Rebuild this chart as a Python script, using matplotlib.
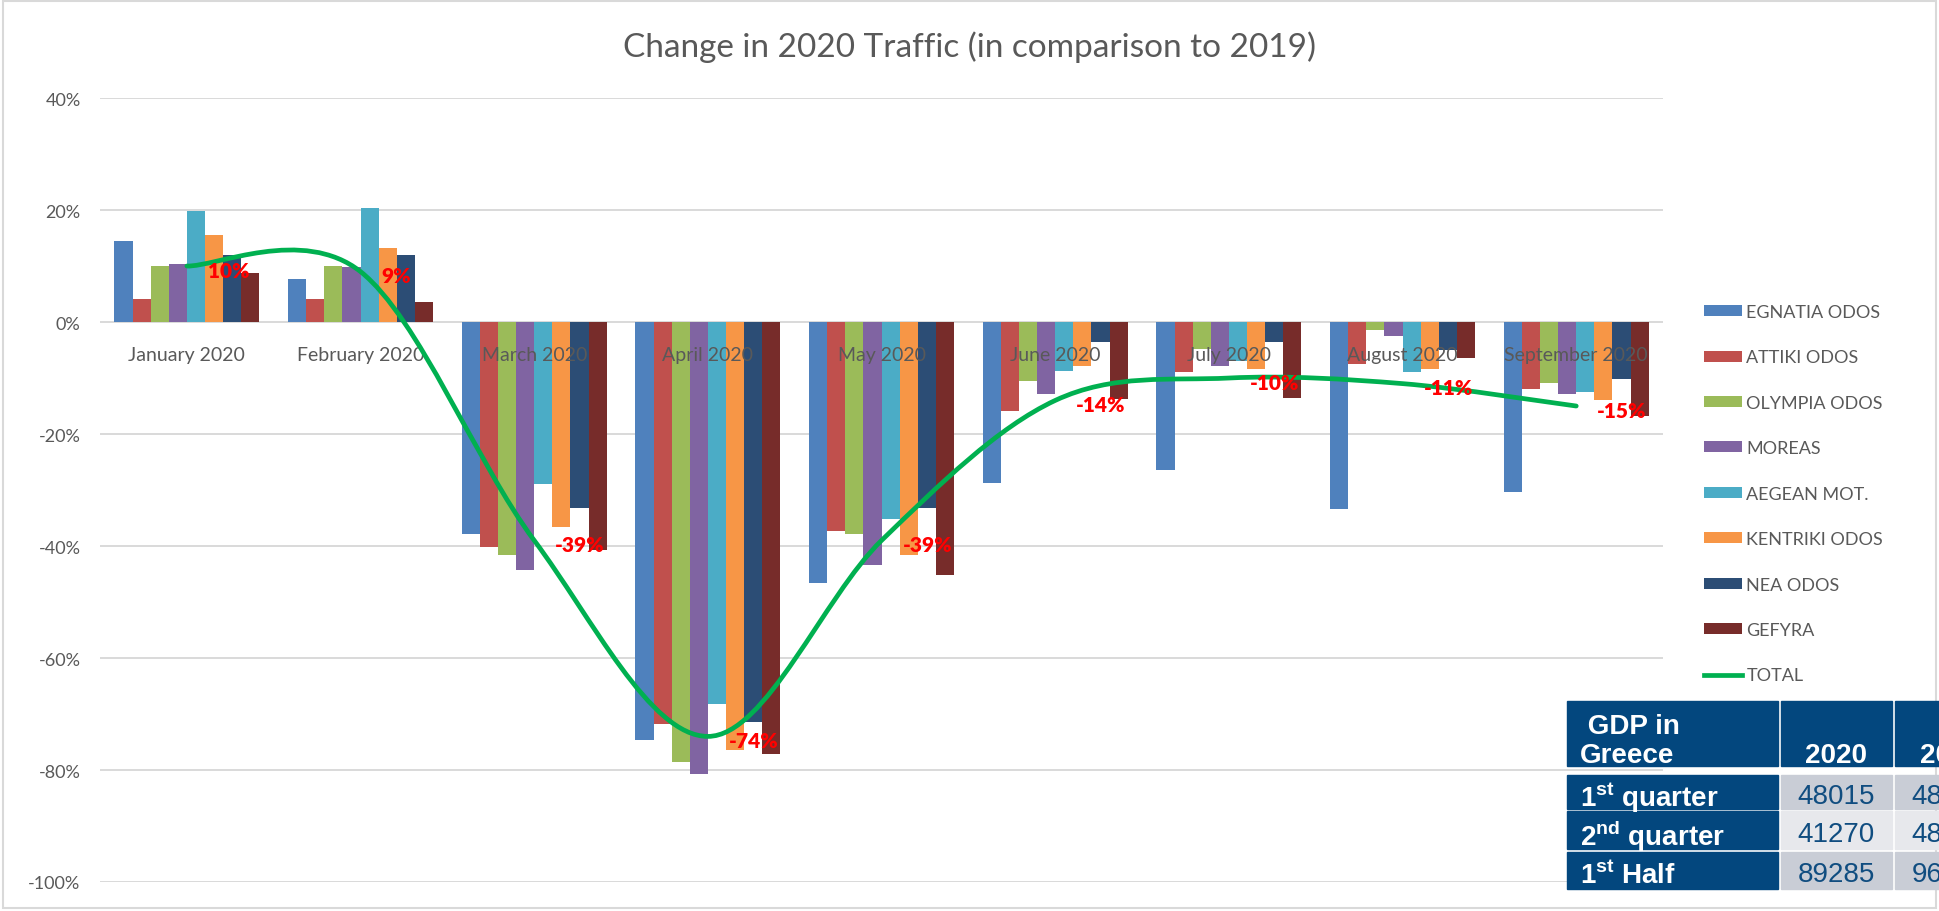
import numpy as np
import matplotlib
matplotlib.use("Agg")
import matplotlib.pyplot as plt
from matplotlib.path import Path
from matplotlib.patches import PathPatch, Rectangle
from matplotlib.lines import Line2D
from matplotlib.ticker import FuncFormatter

plt.rcParams['font.family'] = ['Lato', 'DejaVu Sans']
plt.rcParams['mathtext.fontset'] = 'custom'
plt.rcParams['mathtext.bf'] = 'Liberation Sans:bold'
plt.rcParams['mathtext.rm'] = 'Liberation Sans'

################ data ################

months = ["January 2020", "February 2020", "March 2020", "April 2020", "May 2020",
          "June 2020", "July 2020", "August 2020", "September 2020"]

roads = ["EGNATIA ODOS", "ATTIKI ODOS", "OLYMPIA ODOS", "MOREAS",
         "AEGEAN MOT.", "KENTRIKI ODOS", "NEA ODOS", "GEFYRA"]

egnatia = [14.5, 7.6, -37.9, -74.7, -46.6, -28.7, -26.4, -33.4, -30.4]
attiki = [4.2, 4.2, -40.2, -71.7, -37.3, -15.8, -9.0, -7.5, -11.9]
olympia = [10.0, 10.0, -41.6, -78.6, -37.9, -10.5, -4.8, -1.5, -10.8]
moreas = [10.4, 9.8, -44.3, -80.7, -43.4, -12.9, -7.8, -2.5, -12.9]
aegean = [19.8, 20.4, -28.9, -68.3, -35.2, -8.7, -6.9, -9.0, -12.5]
kentriki = [15.5, 13.2, -36.6, -76.5, -41.6, -7.8, -8.4, -8.4, -14.0]
nea = [11.9, 12.0, -33.3, -71.5, -33.2, -3.6, -3.6, -5.0, -10.1]
gefyra = [8.7, 3.6, -40.8, -77.2, -45.1, -13.8, -13.6, -6.4, -16.8]

total = [10, 9, -39, -74, -39, -14, -10, -11, -15]

road_colors = ["#4F81BD", "#C0504D", "#9BBB59", "#8064A2",
               "#4BACC6", "#F79646", "#2C4D75", "#772C2A"]
total_color = "#00B050"

# GDP table
gdp_header = ["GDP in\nGreece", "2020", "2019"]
gdp_rows = [r"$\mathbf{1}^{\mathbf{st}}$ quarter",
            r"$\mathbf{2}^{\mathbf{nd}}$ quarter",
            r"$\mathbf{1}^{\mathbf{st}}$ Half"]
gdp_2020 = [48015, 41270, 89285]
gdp_2019 = [48200, 48660, 96860]  # only the first digits are visible

################ figure ################

grey = "#595959"
fig = plt.figure(figsize=(19.39, 9.12), dpi=100)
ax = fig.add_axes([0.0516, 0.0318, 0.8061, 0.8596])

x = np.arange(len(months))
group = 0.835
w = group / len(roads)
series = [egnatia, attiki, olympia, moreas, aegean, kentriki, nea, gefyra]
handles = []
for i, vals in enumerate(series):
    b = ax.bar(x + (i - 3.5) * w, vals, w, color=road_colors[i], zorder=2)
    handles.append(b)

# smoothed total line (bezier through the monthly points)
pts = np.column_stack([x, total]).astype(float)
n = len(pts)
verts = [pts[0]]
codes = [Path.MOVETO]
for k in range(n - 1):
    p0 = pts[max(k - 1, 0)]
    p1 = pts[k]
    p2 = pts[k + 1]
    p3 = pts[min(k + 2, n - 1)]
    c1 = p1 + (p2 - p0) / 6.0
    c2 = p2 - (p3 - p1) / 6.0
    verts += [c1, c2, p2]
    codes += [Path.CURVE4] * 3
ax.add_patch(PathPatch(Path(verts, codes), facecolor="none", edgecolor=total_color,
                       lw=3.4, zorder=4, capstyle="round"))

for i, v in enumerate(total):
    ax.annotate(f"{v}%", (x[i], v), xytext=(15, -3), textcoords="offset points",
                ha="left", va="center", color="#FF0000", fontweight="heavy",
                fontsize=15, zorder=5)

ax.set_xlim(-0.5, len(months) - 0.5)
ax.set_ylim(-100, 40)
ax.set_yticks(range(-100, 41, 20))
ax.yaxis.set_major_formatter(FuncFormatter(lambda v, p: f"{v:.0f}%"))
ax.set_xticks(x, months)
ax.spines["bottom"].set_position(("data", 0))
for s in ["bottom", "left", "right", "top"]:
    ax.spines[s].set_visible(False)
ax.tick_params(axis="x", length=0, pad=17, labelsize=14, labelcolor=grey)
ax.tick_params(axis="y", length=0, pad=14, labelsize=13, labelcolor=grey)
ax.yaxis.grid(True, color="#D9D9D9", lw=1.4)
ax.set_axisbelow(True)
ax.xaxis.set_zorder(3)

fig.text(0.5, 0.948, "Change in 2020 Traffic (in comparison to 2019)",
         ha="center", va="center", fontsize=24, color=grey)

handles.append(Line2D([], [], color=total_color, lw=3.4))
fig.legend(handles, roads + ["TOTAL"], loc="upper left",
           bbox_to_anchor=(1695 / 1939, 1 - 296 / 912), frameon=False,
           fontsize=13, handlelength=2.1, handleheight=0.55, labelspacing=1.63,
           handletextpad=0.25, borderpad=0, labelcolor=grey)

# chart border
fig.patches.append(Rectangle((0.0015, 0.003), 0.997, 0.995, transform=fig.transFigure,
                             fill=False, edgecolor="#D9D9D9", lw=1.5))

################ GDP table ################

tax = fig.add_axes([0, 0, 1, 1], zorder=10)
tax.set_xlim(0, 1939)
tax.set_ylim(912, 0)
tax.axis("off")
tax.patch.set_alpha(0)

col_x = [1567, 1781, 1895]
col_w = [211, 111, 111]
row_y = [702, 776, 812, 853]
row_h = [65, 34, 38, 37]
dark = "#03477E"
cell_bg = ["#C9CDD6", "#E7E8EC", "#C9CDD6"]
tfont = "Liberation Sans"

for c in range(3):
    tax.add_patch(Rectangle((col_x[c], row_y[0]), col_w[c], row_h[0], color=dark))
head_lines = gdp_header[0].split("\n")
tax.text(col_x[0] + 13, row_y[0] + row_h[0] - 4, " " + head_lines[0] + "\n" + head_lines[1],
         ha="left", va="baseline", color="white", fontsize=20, fontweight="bold",
         family=tfont, linespacing=1.15)
for c in (1, 2):
    tax.text(col_x[c] + col_w[c] / 2, row_y[0] + row_h[0] - 4, gdp_header[c],
             ha="center", va="baseline", color="white", fontsize=20,
             fontweight="bold", family=tfont)

for r in range(3):
    top = row_y[r + 1]
    h = row_h[r + 1]
    tax.add_patch(Rectangle((col_x[0], top), col_w[0], h, color=dark))
    tax.add_patch(Rectangle((col_x[1], top), col_w[1], h, color=cell_bg[r]))
    tax.add_patch(Rectangle((col_x[2], top), col_w[2], h, color=cell_bg[r]))
    tax.text(col_x[0] + 13, top + h / 2 + 1, gdp_rows[r], ha="left", va="center_baseline",
             color="white", fontsize=20, fontweight="bold", family=tfont)
    tax.text(col_x[1] + col_w[1] / 2, top + h / 2 + 1, str(gdp_2020[r]), ha="center",
             va="center_baseline", color="#104D80", fontsize=20, family=tfont)
    tax.text(col_x[2] + col_w[2] / 2, top + h / 2 + 1, str(gdp_2019[r]), ha="center",
             va="center_baseline", color="#104D80", fontsize=20, family=tfont)

fig.savefig("out.png", dpi=100)
